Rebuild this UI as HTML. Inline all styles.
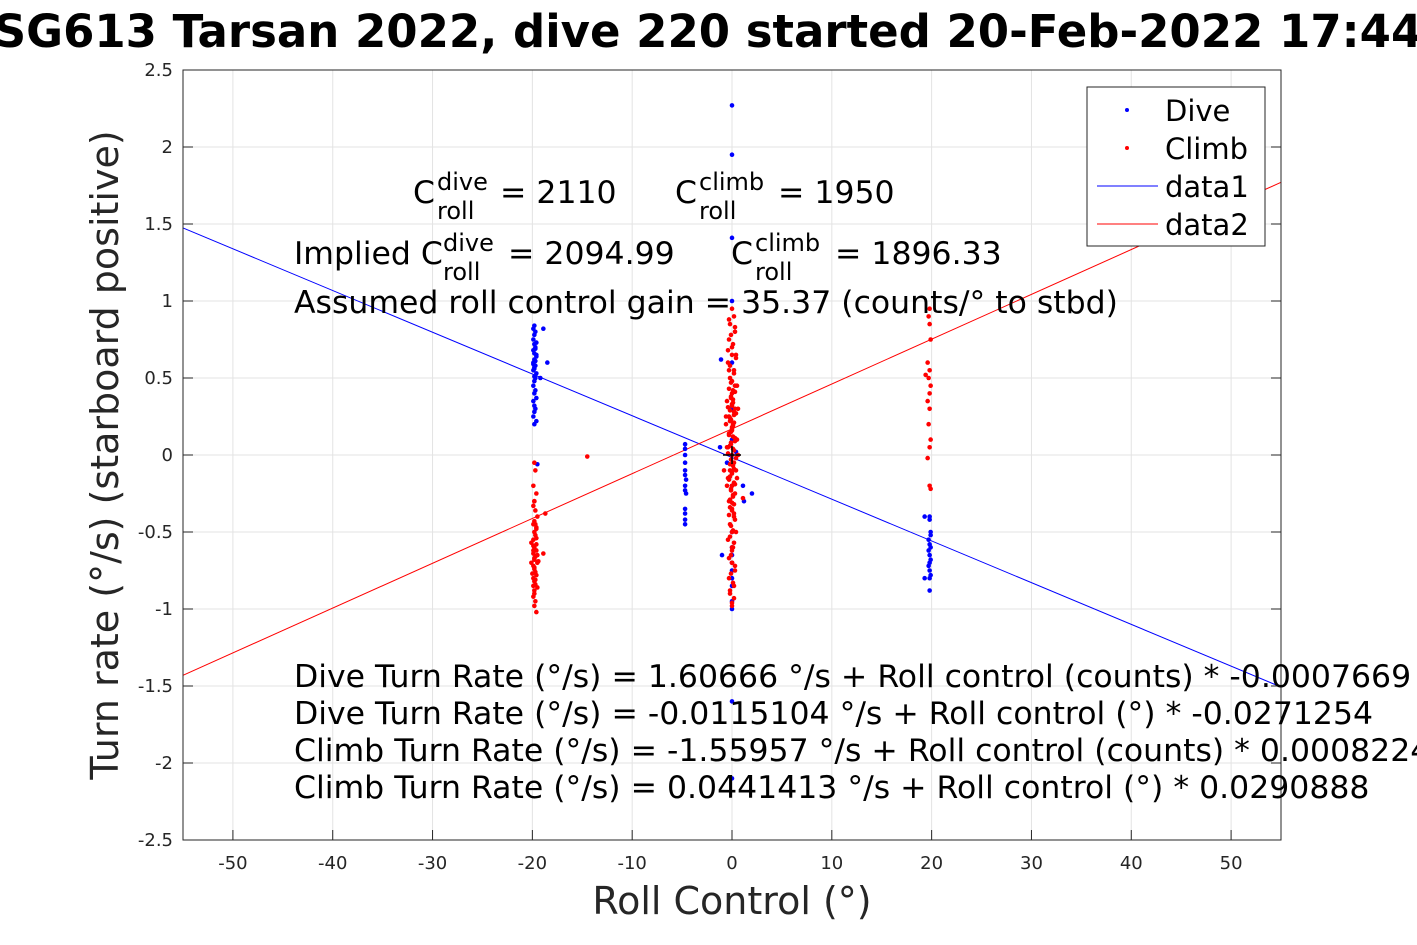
<!DOCTYPE html>
<html><head><meta charset="utf-8"><style>
html,body{margin:0;padding:0;background:#fff;}
svg{display:block;font-family:"DejaVu Sans","Liberation Sans",sans-serif;}
</style></head><body>
<svg id="chart" width="1417" height="945" viewBox="0 0 1417 945" xmlns="http://www.w3.org/2000/svg">
<rect width="1417" height="945" fill="#fff"/>
<text x="708" y="47" text-anchor="middle" font-size="45" font-weight="bold">SG613 Tarsan 2022, dive 220 started 20-Feb-2022 17:44</text>
<rect x="183" y="70" width="1098" height="770" fill="#fff"/>
<g id="grid"></g>
<g id="ticks"></g>
<g id="lines"></g>
<g id="points"></g>
<rect x="183" y="70" width="1098" height="770" fill="none" stroke="#262626" stroke-width="1"/>
<g font-size="31.5" fill="#000">
<text y="203"><tspan x="413">C</tspan><tspan x="437" y="190" font-size="24">dive</tspan><tspan x="437" y="219" font-size="24">roll</tspan><tspan x="500" y="203">= 2110</tspan></text>
<text y="203"><tspan x="675">C</tspan><tspan x="699" y="190" font-size="24">climb</tspan><tspan x="699" y="219" font-size="24">roll</tspan><tspan x="778" y="203">= 1950</tspan></text>
<text y="264"><tspan x="294">Implied C</tspan><tspan x="443" y="251" font-size="24">dive</tspan><tspan x="443" y="280" font-size="24">roll</tspan><tspan x="508" y="264">= 2094.99</tspan></text>
<text y="264"><tspan x="731">C</tspan><tspan x="755" y="251" font-size="24">climb</tspan><tspan x="755" y="280" font-size="24">roll</tspan><tspan x="835" y="264">= 1896.33</tspan></text>
<text x="294" y="313">Assumed roll control gain = 35.37 (counts/° to stbd)</text>
<text x="294" y="687">Dive Turn Rate (°/s) = 1.60666 °/s + Roll control (counts) * -0.0007669</text>
<text x="294" y="724">Dive Turn Rate (°/s) = -0.0115104 °/s + Roll control (°) * -0.0271254</text>
<text x="294" y="761">Climb Turn Rate (°/s) = -1.55957 °/s + Roll control (counts) * 0.0008224</text>
<text x="294" y="798">Climb Turn Rate (°/s) = 0.0441413 °/s + Roll control (°) * 0.0290888</text>
</g>
<text x="732" y="914" text-anchor="middle" font-size="38" fill="#262626">Roll Control (°)</text>
<text transform="translate(118,455) rotate(-90)" text-anchor="middle" font-size="38" fill="#262626">Turn rate (°/s) (starboard positive)</text>
<g>
<rect x="1087" y="87" width="178" height="159" fill="#fff" stroke="#262626" stroke-width="1"/>
<circle cx="1127" cy="110" r="2" fill="#0000ff"/>
<text x="1165" y="121" font-size="29">Dive</text>
<circle cx="1127" cy="148" r="2" fill="#ff0000"/>
<text x="1165" y="159" font-size="29">Climb</text>
<line x1="1097" y1="186" x2="1158" y2="186" stroke="#0000ff"/>
<text x="1165" y="197" font-size="29">data1</text>
<line x1="1097" y1="224" x2="1158" y2="224" stroke="#ff0000"/>
<text x="1165" y="235" font-size="29">data2</text>
</g>
</svg>
<script>
const xTicks=[-50,-40,-30,-20,-10,0,10,20,30,40,50];
const yTicks=[-2.5,-2,-1.5,-1,-0.5,0,0.5,1,1.5,2,2.5];
const diveX=[-19.8,-19.9,-19.7,-19.8,-19.9,-19.6,-19.8,-19.7,-19.9,-19.8,-19.6,-19.8,-19.9,-19.7,-19.8,-19.9,-19.6,-19.8,-19.7,-19.8,-19.9,-19.7,-19.8,-19.6,-19.9,-19.8,-19.7,-19.8,-19.9,-19.6,-19.8,-18.5,-18.9,-19.5,-19.2,-19.7,-19.9,-19.6,-19.8,-19.7,
 -4.7,-4.7,-4.7,-4.7,-4.7,-4.7,-4.6,-4.7,-4.7,-4.6,-4.7,-4.7,-4.7,-4.7,
 0,0,0,0,0,0,0,0,0,0,0,0,0,0,0,0,0,0,0,-1.1,-1,-1.2,2,1.1,1.2,-0.5,0.4,
 19.8,19.8,19.9,19.7,19.8,19.9,19.7,19.8,19.9,19.8,19.7,19.8,19.9,19.8,19.8,19.3,19.3,19.9];
const diveY=[0.84,0.82,0.8,0.78,0.75,0.73,0.72,0.7,0.68,0.66,0.64,0.62,0.6,0.58,0.57,0.55,0.53,0.51,0.5,0.48,0.45,0.42,0.4,0.37,0.35,0.32,0.3,0.28,0.25,0.22,0.2,0.6,0.82,-0.06,0.5,0.61,0.59,0.65,0.56,0.69,
 0.07,0.04,0.0,-0.05,-0.1,-0.13,-0.16,-0.2,-0.23,-0.25,-0.35,-0.38,-0.42,-0.45,
 2.27,1.95,1.41,1.0,0.6,0.3,0.1,-0.2,-0.5,-0.6,-0.65,-0.7,-0.75,-0.8,-0.85,-0.95,-1.0,-1.6,-2.1,0.62,-0.65,0.05,-0.25,-0.2,-0.3,-0.05,0.02,
 -0.4,-0.42,-0.52,-0.55,-0.58,-0.6,-0.62,-0.65,-0.68,-0.7,-0.72,-0.75,-0.78,-0.8,-0.88,-0.4,-0.8,-0.5];
const climbX=[-19.8,-19.7,-19.9,-19.6,-19.8,-19.9,-19.7,-19.5,-19.8,-19.9,-19.6,-19.8,-19.7,-19.9,-20.1,-19.8,-19.6,-19.9,-19.7,-19.8,-19.5,-19.9,-19.8,-19.7,-19.6,-19.9,-19.8,-19.7,-19.5,-19.8,-19.9,-19.7,-19.8,-19.6,-19.9,-19.8,-20.1,-19.7,-19.8,-19.6,-18.7,-18.9,-14.5,
 -19.6,-19.9,-19.5,-19.8,-20.0,-19.7,-19.4,-19.9,-19.6,-19.8,
 0,0.2,-0.2,0.3,-0.3,0,0.4,-0.4,0.2,-0.2,0.5,0,-0.5,0.3,-0.3,0.1,-0.1,0.4,-0.4,0,0.2,-0.2,0.5,-0.5,0.3,-0.3,0,0.2,-0.2,0.4,-0.4,0.1,-0.1,0,0.3,-0.3,0.2,-0.2,0,0.1,-0.1,0,0.2,-0.2,0,0.1,-0.1,0,0,0.6,-0.6,0.5,-0.5,0.4,-0.4,0.6,-0.6,0.3,-0.3,0,0,0,1.1,-0.8,
 -0.3,0.3,-0.1,0.1,-0.4,0.4,-0.2,0.2,0,-0.3,0.3,-0.1,0.1,-0.4,0.4,-0.2,0.2,0,-0.3,0.3,-0.1,0.1,-0.4,0.4,-0.2,0.2,0,-0.3,0.3,-0.1,0.1,-0.2,0.2,0,-0.3,0.3,-0.1,0.1,-0.2,0.2,0,-0.3,0.3,-0.1,0.1,-0.2,0.2,0,-0.1,0.1,
 -0.2,0.2,-0.1,0.1,0,-0.3,0.3,-0.2,0.2,-0.1,0.1,0,-0.2,0.2,-0.1,0.1,0,-0.2,0.2,0,
 19.8,19.7,19.8,19.9,19.6,19.8,19.7,19.9,19.8,19.6,19.8,19.7,19.9,19.8,19.6,19.8,19.9,19.4];
const climbY=[-0.05,-0.1,-0.2,-0.25,-0.3,-0.33,-0.36,-0.4,-0.43,-0.45,-0.48,-0.5,-0.52,-0.55,-0.57,-0.6,-0.62,-0.64,-0.66,-0.68,-0.7,-0.72,-0.74,-0.76,-0.78,-0.8,-0.82,-0.84,-0.86,-0.88,-0.92,-0.95,-0.98,-1.02,-0.62,-0.67,-0.7,-0.45,-0.3,-0.58,-0.38,-0.64,-0.01,
 -0.54,-0.59,-0.65,-0.73,-0.77,-0.81,-0.69,-0.85,-0.47,-0.9,
 0.95,0.9,0.85,0.8,0.75,0.7,0.65,0.6,0.55,0.5,0.45,0.4,0.35,0.3,0.25,0.2,0.15,0.1,0.05,0.0,-0.05,-0.1,-0.15,-0.2,-0.25,-0.3,-0.35,-0.4,-0.45,-0.5,-0.55,-0.6,-0.65,-0.7,-0.75,-0.8,-0.85,-0.9,-0.98,0.42,0.38,0.33,0.28,0.22,0.18,0.12,0.08,-0.6,-0.7,0.3,0.25,0.1,0.05,-0.1,-0.15,0.0,0.2,0.45,0.55,0.65,-0.5,-0.2,-0.28,-0.1,
 0.88,0.83,0.78,0.72,0.68,0.63,0.58,0.53,0.48,0.43,0.41,0.37,0.34,0.31,0.27,0.24,0.21,0.17,0.14,0.11,0.07,0.04,0.01,-0.02,-0.06,-0.09,-0.12,-0.16,-0.19,-0.22,-0.26,-0.29,-0.32,-0.36,-0.39,-0.42,-0.46,-0.49,-0.53,-0.57,-0.62,-0.67,-0.72,-0.77,-0.83,-0.88,-0.93,-0.96,0.47,0.36,
 0.29,0.26,0.23,0.19,0.16,0.13,0.09,0.06,0.03,-0.03,-0.07,-0.11,-0.14,-0.18,-0.23,-0.27,-0.31,-0.34,-0.38,0.32,
 0.95,0.9,0.85,0.75,0.6,0.55,0.5,0.45,0.4,0.35,0.3,0.2,0.1,0.05,-0.02,-0.2,-0.22,0.52];
const fitIntercepts=[-0.016,0.17];
const fitSlopes=[-0.0271,0.0291];
const fitColors=['#0000ff','#ff0000'];
const fitRange=[-55,55];

const X0=183,X1=1281,Y0=840,Y1=70;
const xs=v=>X0+(v+55)/110*(X1-X0);
const ys=v=>Y0-(v+2.5)/5*(Y0-Y1);
const NS='http://www.w3.org/2000/svg';
function mk(tag,parent,attrs){const e=document.createElementNS(NS,tag);for(const k in attrs)e.setAttribute(k,attrs[k]);parent.appendChild(e);return e;}
const grid=document.getElementById('grid'),ticks=document.getElementById('ticks'),lines=document.getElementById('lines'),pts=document.getElementById('points');
xTicks.forEach(t=>{
  const g=mk('line',grid,{x1:xs(t),x2:xs(t),y1:Y1,y2:Y0,stroke:'#e3e3e3'});
  
  
  const tk=mk('text',ticks,{x:xs(t),y:Y0+29,'text-anchor':'middle','font-size':18,fill:'#262626'});
  tk.textContent=t;
  
  
  const tm=mk('line',ticks,{x1:xs(t),x2:xs(t),y1:Y0,y2:Y0-10,stroke:'#262626'});
  
  
});
yTicks.forEach(t=>{
  const g=mk('line',grid,{x1:X0,x2:X1,y1:ys(t),y2:ys(t),stroke:'#e3e3e3'});
  
  
  const tk=mk('text',ticks,{x:X0-10,y:ys(t)+6,'text-anchor':'end','font-size':18,fill:'#262626'});
  tk.textContent=t;
  
  
  const tm=mk('line',ticks,{x1:X0,x2:X0+10,y1:ys(t),y2:ys(t),stroke:'#262626'});
  
  
  const tm2=mk('line',ticks,{x1:X1,x2:X1-10,y1:ys(t),y2:ys(t),stroke:'#262626'});
  
  
});
diveX.forEach((x,i)=>{
  const c=mk('circle',pts,{cx:xs(x),cy:ys(diveY[i]),r:2.3,fill:'#0000ff'});
  
  
});
climbX.forEach((x,i)=>{
  const c=mk('circle',pts,{cx:xs(x),cy:ys(climbY[i]),r:2.3,fill:'#ff0000'});
  
  
});
fitSlopes.forEach((m,i)=>{
  const b=fitIntercepts[i];
  const l=mk('line',lines,{x1:xs(fitRange[0]),y1:ys(b+m*fitRange[0]),x2:xs(fitRange[1]),y2:ys(b+m*fitRange[1]),stroke:fitColors[i],'stroke-width':1});
  
  
});
const cx=xs(0),cy=ys(0);
const p1=mk('line',pts,{x1:cx-9,x2:cx+9,y1:cy,y2:cy,stroke:'#000','stroke-width':1.5});


const p2=mk('line',pts,{x1:cx,x2:cx,y1:cy-9,y2:cy+9,stroke:'#000','stroke-width':1.5});


</script>
</body></html>
